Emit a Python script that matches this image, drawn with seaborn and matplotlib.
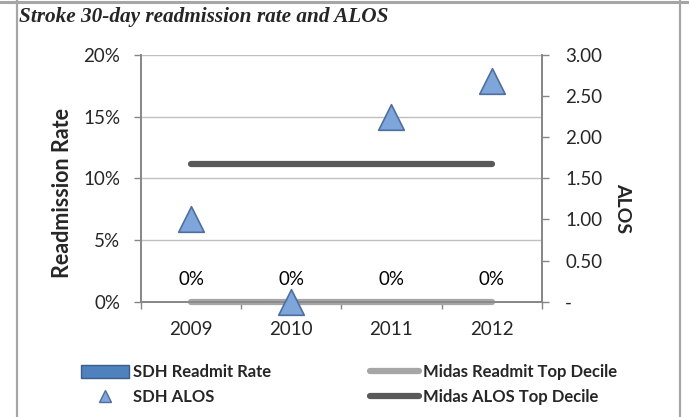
import numpy as np

import matplotlib
matplotlib.use('Agg')

import matplotlib.pyplot as plt
import seaborn as sns
from matplotlib.lines import Line2D
from matplotlib.patches import Patch
from matplotlib.ticker import FuncFormatter

# Chart data
years = ['2009', '2010', '2011', '2012']
sdh_readmit = [0.0, 0.0, 0.0, 0.0]
sdh_alos = [1.00, 0.00, 2.25, 2.68]
midas_readmit = [0.0, 0.0, 0.0, 0.0]
midas_alos = [1.67, 1.67, 1.67, 1.67]

# Colours
bar_blue = '#4F81BD'
tri_face = '#7EA6DA'
tri_edge = '#4F6E9E'
midas_light = '#A6A6A6'
midas_dark = '#595959'
axis_grey = '#868686'

sns.set_theme(style='white')
plt.rcParams['font.family'] = ['Lato', 'DejaVu Sans']

fig = plt.figure(figsize=(6.89, 4.17), dpi=100)
ax = fig.add_axes([0.2046, 0.2765, 0.5816, 0.5916])
ax2 = ax.twinx()
pos = np.arange(len(years))

# SDH readmit bars (all zero) with data labels
sns.barplot(x=years, y=sdh_readmit, color=bar_blue, width=0.5, ax=ax)
ax.bar_label(ax.containers[0], labels=[f'{v:.0%}' for v in sdh_readmit],
             padding=10, fontsize=13.5, color='black')

# Midas readmit top decile line
sns.lineplot(x=pos, y=midas_readmit, ax=ax, color=midas_light, lw=4.5,
             solid_capstyle='round', clip_on=False, legend=False, zorder=4)

# ALOS on secondary axis
sns.lineplot(x=pos, y=midas_alos, ax=ax2, color=midas_dark, lw=4.5,
             solid_capstyle='round', legend=False, zorder=3)
sns.scatterplot(x=pos, y=sdh_alos, ax=ax2, marker='^', s=340, color=tri_face,
                edgecolor=tri_edge, linewidth=1.2, clip_on=False, legend=False, zorder=5)

# Axes limits and ticks
ax.set_xlim(-0.5, len(years) - 0.5)
ax.set_ylim(0, 0.2)
ax2.set_ylim(0, 3)
ax.set_yticks(np.arange(0, 0.201, 0.05))
ax2.set_yticks(np.arange(0, 3.01, 0.5))
ax.yaxis.set_major_formatter(FuncFormatter(lambda v, p: f'{v:.0%}'))
ax2.yaxis.set_major_formatter(FuncFormatter(lambda v, p: '-' if abs(v) < 1e-9 else f'{v:.2f}'))

ax.set_xticks(pos)
ax.set_xticklabels(years)
ax.set_xticks(np.arange(-0.5, len(years), 1), minor=True)
ax.tick_params(axis='x', which='major', length=0, pad=14, labelsize=13.5)
ax.tick_params(axis='x', which='minor', bottom=True, length=5, width=1, color=axis_grey, direction='out')
ax.tick_params(axis='y', left=True, length=5, width=1, color=axis_grey, direction='out', pad=10, labelsize=13.5)
ax2.tick_params(axis='y', right=True, length=5, width=1, color=axis_grey, direction='out', pad=12, labelsize=13.5)

ax.set_xlabel('')
ax.set_ylabel('Readmission Rate', fontsize=15.5, fontweight='bold')
ax.yaxis.label.set_va('center')
ax.yaxis.set_label_coords(-0.195, 0.44)
ax2.set_ylabel('ALOS', fontsize=14, fontweight='bold', rotation=270)
ax2.yaxis.label.set_va('center')
ax2.yaxis.set_label_coords(1.203, 0.38)

# Grid and spines
ax.yaxis.grid(True, color='#BFBFBF', lw=1)
ax.set_axisbelow(True)
for a in (ax, ax2):
    a.spines['top'].set_visible(False)
    for s in ('left', 'right', 'bottom'):
        a.spines[s].set_color(axis_grey)
        a.spines[s].set_linewidth(1.2)

# Legend
handles = [
    Patch(facecolor=bar_blue, edgecolor='#385D8A', label='SDH Readmit Rate'),
    Line2D([], [], marker='^', ls='none', ms=9, markerfacecolor=tri_face,
           markeredgecolor=tri_edge, label='SDH ALOS'),
    Line2D([], [], color=midas_light, lw=4.5, solid_capstyle='round', label='Midas Readmit Top Decile'),
    Line2D([], [], color=midas_dark, lw=4.5, solid_capstyle='round', label='Midas ALOS Top Decile'),
]
fig.legend(handles=handles, ncol=2, loc='upper left', bbox_to_anchor=(80.7 / 689, 1 - 364 / 417),
           frameon=False, borderpad=0, borderaxespad=0, handlelength=2.9, handleheight=0.8,
           handletextpad=0.25, columnspacing=5.95, labelspacing=0.55,
           prop={'weight': 'bold', 'size': 12})

# Title and outer frame
fig.text(19 / 689, 1 - 17 / 417, 'Stroke 30-day readmission rate and ALOS',
         family='Liberation Serif', style='italic', weight='bold', fontsize=15.3, va='center', ha='left')
fig.add_artist(Line2D([17 / 689, 17 / 689], [0, 1], transform=fig.transFigure, color='#A6A6A6', lw=1.6))
fig.add_artist(Line2D([680 / 689, 680 / 689], [0, 1], transform=fig.transFigure, color='#A6A6A6', lw=1.6))
fig.add_artist(Line2D([0, 1], [1 - 1.5 / 417, 1 - 1.5 / 417], transform=fig.transFigure, color='#A6A6A6', lw=2.2))

plt.savefig('out.png', dpi=100)
plt.close()
